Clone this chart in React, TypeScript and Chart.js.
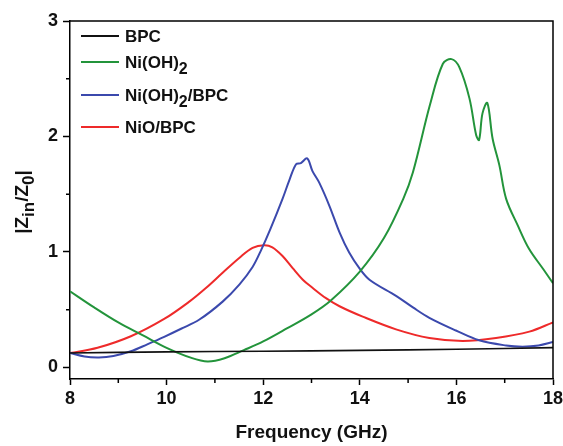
import React, { useEffect, useRef } from "react";
import { Chart, registerables } from "chart.js";

Chart.register(...registerables);

// ---- data (frequency in GHz, |Zin/Z0|) ----
const seriesLabels = ["BPC", "Ni(OH)2", "Ni(OH)2/BPC", "NiO/BPC"];
const seriesColors = ["#111111", "#23943b", "#3b49ad", "#ee2a2a"];

const bpcFreq = [8, 10, 12, 14, 16, 18];
const bpcVals = [0.125, 0.135, 0.14, 0.148, 0.158, 0.172];

const niohFreq = [8.0, 8.5, 9.0, 9.5, 10.0, 10.5, 10.85, 11.2, 11.6, 12.0, 12.5, 13.0, 13.4, 14.0, 14.5, 14.9, 15.1, 15.45, 15.72, 15.9, 16.06, 16.27, 16.41, 16.47, 16.54, 16.64, 16.75, 16.89, 17.03, 17.27, 17.5, 17.8, 18.0];
const niohVals = [0.66, 0.52, 0.39, 0.28, 0.17, 0.085, 0.052, 0.08, 0.15, 0.225, 0.34, 0.46, 0.58, 0.83, 1.12, 1.46, 1.69, 2.27, 2.63, 2.67, 2.6, 2.33, 2.01, 1.97, 2.2, 2.29, 1.98, 1.75, 1.46, 1.23, 1.03, 0.85, 0.73];

const niohBpcFreq = [8.0, 8.3, 8.6, 8.9, 9.26, 9.6, 9.95, 10.3, 10.68, 11.16, 11.51, 11.78, 11.95, 12.15, 12.4, 12.54, 12.68, 12.78, 12.91, 13.02, 13.16, 13.37, 13.58, 13.78, 13.99, 14.2, 14.75, 15.1, 15.44, 15.99, 16.47, 17.03, 17.37, 17.7, 18.0];
const niohBpcVals = [0.125, 0.095, 0.087, 0.1, 0.14, 0.2, 0.265, 0.335, 0.415, 0.57, 0.72, 0.87, 1.01, 1.2, 1.46, 1.62, 1.76, 1.77, 1.81, 1.7, 1.6, 1.4, 1.17, 0.995, 0.86, 0.76, 0.62, 0.52, 0.43, 0.32, 0.235, 0.19, 0.18, 0.19, 0.22];

const nioBpcFreq = [8.0, 8.57, 9.26, 9.95, 10.47, 10.82, 11.16, 11.51, 11.78, 12.02, 12.19, 12.4, 12.61, 12.82, 13.02, 13.3, 13.58, 14.06, 14.75, 15.44, 16.13, 16.82, 17.51, 18.0];
const nioBpcVals = [0.125, 0.17, 0.27, 0.42, 0.57, 0.69, 0.82, 0.95, 1.035, 1.058, 1.04, 0.965, 0.86, 0.76, 0.69, 0.6, 0.53, 0.44, 0.33, 0.255, 0.23, 0.255, 0.31, 0.39];

const xTicks = [8, 10, 12, 14, 16, 18];
const xMinorTicks = [9, 11, 13, 15, 17];
const yTicks = [0, 1, 2, 3];
const yMinorTicks = [0.5, 1.5, 2.5];

const FONT = "'Liberation Sans', Arial, sans-serif";

function pts(xs: number[], ys: number[]) {
  return xs.map((x, i) => ({ x, y: ys[i] }));
}

// draws text pieces with subscripts; pieces: [text, isSub]
function drawRich(ctx: CanvasRenderingContext2D, pieces: [string, boolean][], x: number, y: number, size: number, subSize: number, subShift: number, align: "left" | "center") {
  let total = 0;
  for (const [t, sub] of pieces) {
    ctx.font = `bold ${sub ? subSize : size}px ${FONT}`;
    total += ctx.measureText(t).width;
  }
  let cx = align === "center" ? x - total / 2 : x;
  ctx.textAlign = "left";
  ctx.textBaseline = "middle";
  for (const [t, sub] of pieces) {
    ctx.font = `bold ${sub ? subSize : size}px ${FONT}`;
    ctx.fillText(t, cx, sub ? y + subShift : y);
    cx += ctx.measureText(t).width;
  }
}

const legendPieces: [string, boolean][][] = [
  [["BPC", false]],
  [["Ni(OH)", false], ["2", true]],
  [["Ni(OH)", false], ["2", true], ["/BPC", false]],
  [["NiO/BPC", false]],
];

const decorPlugin = {
  id: "decor",
  afterDraw(chart: any) {
    const { ctx, chartArea } = chart;
    const xs = chart.scales.x;
    const ys = chart.scales.y;
    ctx.save();
    ctx.strokeStyle = "#000";
    ctx.lineWidth = 1.5;
    // frame (top & right)
    ctx.beginPath();
    ctx.moveTo(chartArea.left, chartArea.top);
    ctx.lineTo(chartArea.right, chartArea.top);
    ctx.lineTo(chartArea.right, chartArea.bottom);
    ctx.stroke();
    // minor ticks
    ctx.beginPath();
    for (const v of xMinorTicks) {
      const px = xs.getPixelForValue(v);
      ctx.moveTo(px, chartArea.bottom);
      ctx.lineTo(px, chartArea.bottom + 4);
    }
    for (const v of yMinorTicks) {
      const py = ys.getPixelForValue(v);
      ctx.moveTo(chartArea.left, py);
      ctx.lineTo(chartArea.left - 4, py);
    }
    ctx.stroke();

    // legend
    const rows = [36, 62, 95, 127];
    chart.data.datasets.forEach((ds: any, i: number) => {
      const y = rows[i];
      ctx.strokeStyle = ds.borderColor;
      ctx.lineWidth = 2;
      ctx.beginPath();
      ctx.moveTo(81, y);
      ctx.lineTo(119, y);
      ctx.stroke();
      ctx.fillStyle = "#111";
      drawRich(ctx, legendPieces[i], 125, y + 1, 17, 16, 7, "left");
    });

    // x title
    ctx.fillStyle = "#111";
    drawRich(ctx, [["Frequency (GHz)", false]], (chartArea.left + chartArea.right) / 2, 433, 19, 19, 0, "center");

    // y title
    ctx.translate(23, (chartArea.top + chartArea.bottom) / 2 + 2);
    ctx.rotate(-Math.PI / 2);
    drawRich(ctx, [["|Z", false], ["in", true], ["/Z", false], ["0", true], ["|", false]], 0, 0, 19, 17, 6, "center");
    ctx.restore();
  },
};

export default function App() {
  const ref = useRef<HTMLCanvasElement | null>(null);
  useEffect(() => {
    document.body.style.margin = "0";
    const canvas = ref.current!;
    const mk = (i: number, data: any[], w: number) => ({
      label: seriesLabels[i],
      data,
      borderColor: seriesColors[i],
      backgroundColor: seriesColors[i],
      borderWidth: w,
      pointRadius: 0,
      tension: 0.35,
      fill: false,
    });
    const chart = new Chart(canvas, {
      type: "line",
      data: {
        datasets: [
          mk(0, pts(bpcFreq, bpcVals), 1.6),
          mk(1, pts(niohFreq, niohVals), 2),
          mk(2, pts(niohBpcFreq, niohBpcVals), 2),
          mk(3, pts(nioBpcFreq, nioBpcVals), 2),
        ],
      },
      options: {
        animation: false,
        responsive: false,
        devicePixelRatio: 1,
        layout: { padding: { left: 0, right: 10, top: 21, bottom: 0 } },
        plugins: { legend: { display: false }, tooltip: { enabled: false } },
        scales: {
          x: {
            type: "linear",
            min: 8,
            max: 18,
            afterBuildTicks: (s: any) => {
              s.ticks = xTicks.map((v) => ({ value: v }));
            },
            afterFit: (s: any) => {
              s.height = 67;
              s.paddingLeft = 0;
              s.paddingRight = 0;
            },
            grid: { display: true, drawOnChartArea: false, drawTicks: true, tickLength: 6, color: "#000", tickWidth: 1.5 },
            border: { display: true, color: "#000", width: 1.5 },
            ticks: { color: "#111", font: { family: FONT, size: 18, weight: "bold" }, padding: 3, maxRotation: 0 },
          },
          y: {
            type: "linear",
            min: -0.1,
            max: 3,
            afterBuildTicks: (s: any) => {
              s.ticks = yTicks.map((v) => ({ value: v }));
            },
            afterFit: (s: any) => {
              s.width = 70;
              s.paddingTop = 0;
              s.paddingBottom = 0;
            },
            grid: { display: true, drawOnChartArea: false, drawTicks: true, tickLength: 7, color: "#000", tickWidth: 1.5 },
            border: { display: true, color: "#000", width: 1.5 },
            ticks: { color: "#111", font: { family: FONT, size: 18, weight: "bold" }, padding: 5 },
          },
        },
      },
      plugins: [decorPlugin],
    });
    return () => chart.destroy();
  }, []);
  return (
    <div style={{ width: 563, height: 446 }}>
      <canvas ref={ref} width={563} height={446} />
    </div>
  );
}
